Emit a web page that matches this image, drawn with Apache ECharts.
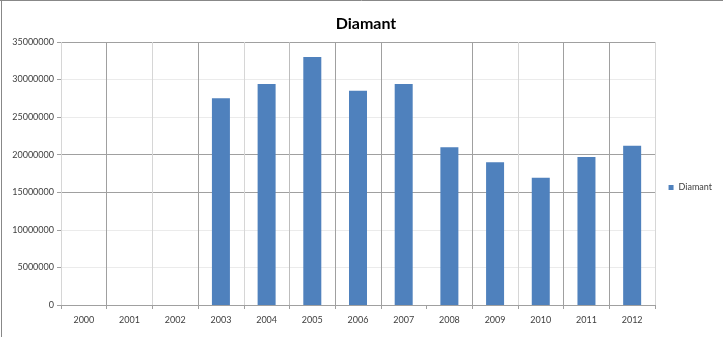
<!DOCTYPE html>
<html>
<head>
<meta charset="utf-8">
<script src="https://cdn.jsdelivr.net/npm/echarts@6/dist/echarts.min.js"></script>
<style>
html,body{margin:0;padding:0;background:#fff;}
#c{width:723px;height:337px;}
</style>
</head>
<body>
<div id="c"></div>
<script>
const titleText = 'Diamant';
const seriesName = 'Diamant';
const years = ['2000','2001','2002','2003','2004','2005','2006','2007','2008','2009','2010','2011','2012'];
const values = [null, null, null, 27500000, 29400000, 33000000, 28500000, 29400000, 21000000, 19000000, 16950000, 19700000, 21200000];

const DARK = '#a0a0a0', LIGHT = '#d6d6d6', MED = '#bdbdbd', HL = '#ebebeb';
const font = 'Lato, "Open Sans", sans-serif';

const chart = echarts.init(document.getElementById('c'), null, {renderer: 'canvas'});
chart.setOption({
  animation: false,
  backgroundColor: '#fff',
  title: {
    text: titleText, left: 361, top: 11, textAlign: 'center',
    textStyle: {fontFamily: font, fontSize: 16, fontWeight: 'bold', color: '#000'}
  },
  legend: {
    right: 6, top: 178, orient: 'vertical',
    icon: 'rect', itemWidth: 5, itemHeight: 5, itemGap: 4,
    textStyle: {fontFamily: font, fontSize: 9, color: '#404040'},
    data: [seriesName]
  },
  grid: {left: 61, right: 68, top: 42, bottom: 32, containLabel: false},
  xAxis: {
    type: 'category', data: years,
    axisLine: {lineStyle: {color: DARK, width: 1}},
    axisTick: {show: true, length: 4, lineStyle: {color: DARK}},
    axisLabel: {fontFamily: font, fontSize: 9, color: '#404040', margin: 11},
    splitLine: {show: true, lineStyle: {color: [LIGHT, DARK, LIGHT, DARK, LIGHT, MED, DARK, DARK, 'rgba(0,0,0,0)', DARK, LIGHT, DARK, DARK, LIGHT], width: 1}}
  },
  yAxis: {
    type: 'value', min: 0, max: 35000000, interval: 5000000,
    axisLine: {show: false},
    axisTick: {show: true, length: 4, lineStyle: {color: DARK}},
    axisLabel: {fontFamily: font, fontSize: 9, color: '#404040', margin: 7, formatter: v => String(v)},
    splitLine: {show: true, lineStyle: {color: [DARK, HL, HL, DARK, DARK, HL, HL, DARK], width: 1}}
  },
  series: [{
    name: seriesName, type: 'bar', data: values, barWidth: 18,
    itemStyle: {color: '#4f81bd'}
  }],
  graphic: [
    {type: 'line', shape: {x1: 0, y1: 0.5, x2: 723, y2: 0.5}, style: {stroke: '#888', lineWidth: 1}},
    {type: 'line', shape: {x1: 1.5, y1: 0, x2: 1.5, y2: 337}, style: {stroke: '#888', lineWidth: 1}}
  ]
});
</script>
</body>
</html>
